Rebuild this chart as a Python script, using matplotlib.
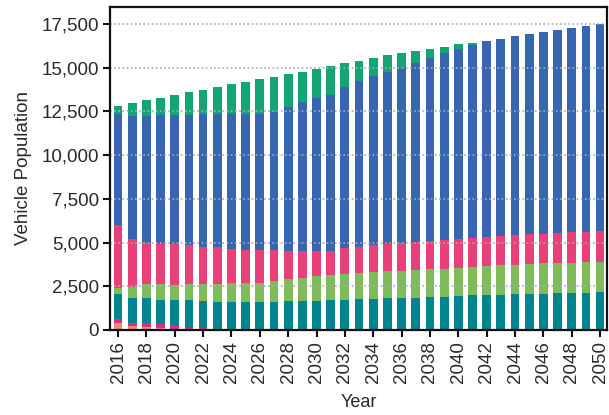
import numpy as np
import matplotlib
matplotlib.use("Agg")
import matplotlib.pyplot as plt
from matplotlib.ticker import FuncFormatter, MultipleLocator

plt.rcParams['font.family'] = ['Liberation Sans', 'DejaVu Sans']

years = list(range(2016, 2051))

# stacked layers, bottom to top
orange = [420, 200, 180, 100, 50] + [0] * 30
magenta = [230, 220, 220, 250, 200, 120, 90, 60] + [0] * 27
teal = [1410, 1390, 1410, 1385, 1465, 1575, 1570, 1560, 1620, 1600,
        1610, 1620, 1640, 1660, 1680, 1700, 1730, 1750, 1770, 1810,
        1830, 1850, 1890, 1910, 1945, 1980, 2000, 2020, 2040, 2060,
        2080, 2100, 2115, 2135, 2155]
olive = [40, 40, 40, 40, 30, 30, 30, 30, 20] + [0] * 26
light_green = [300, 610, 760, 825, 830, 885, 925, 1000, 1065, 1100,
               1100, 1185, 1260, 1315, 1430, 1445, 1490, 1530, 1550, 1545,
               1545, 1565, 1580, 1600, 1620, 1645, 1660, 1680, 1695, 1715,
               1735, 1730, 1735, 1735, 1735]
pink = [3600, 2745, 2380, 2300, 2325, 2230, 2155, 2100, 1945, 1875,
        1850, 1755, 1640, 1540, 1400, 1390, 1450, 1470, 1525, 1580,
        1580, 1620, 1640, 1640, 1660, 1660, 1675, 1695, 1695, 1700,
        1700, 1715, 1735, 1755, 1775]
blue = [6370, 7015, 7245, 7380, 7380, 7485, 7565, 7580, 7680, 7795,
        7815, 7925, 8220, 8520, 8790, 8920, 9250, 9475, 9665, 9840,
        10045, 10240, 10470, 10715, 10865, 11020, 11210, 11270, 11365, 11440,
        11535, 11595, 11670, 11765, 11840]
green = [425, 745, 900, 990, 1145, 1280, 1400, 1570, 1720, 1835,
         1970, 2010, 1885, 1735, 1660, 1645, 1335, 1165, 1030, 935,
         820, 670, 475, 305, 250, 135] + [0] * 9

layers = [orange, magenta, teal, olive, light_green, pink, blue, green]
colors = ['#F38A70', '#DE2A8A', '#00858F', '#C49A36', '#7FBB5B',
          '#E8417A', '#3765AF', '#14A574']

fig = plt.figure(figsize=(6.09, 4.15), dpi=100)
ax = fig.add_axes([0.181, 0.205, 0.816, 0.779])

bottom = np.zeros(len(years))
for vals, c in zip(layers, colors):
    ax.bar(years, vals, width=0.62, bottom=bottom, color=c, zorder=2)
    bottom += np.array(vals)

ax.set_xlim(2015.45, 2050.5)
ax.set_ylim(0, 18500)
ax.yaxis.set_major_locator(MultipleLocator(2500))
ax.yaxis.set_major_formatter(FuncFormatter(lambda v, p: f"{int(v):,}"))
ax.set_xticks(years[::2])
ax.tick_params(axis='x', labelrotation=90)

ax.grid(axis='y', linestyle=(0, (1, 1.5)), color='#AAAAAA', linewidth=1.2, zorder=3)
ax.set_axisbelow(False)

for s in ax.spines.values():
    s.set_linewidth(1.6)
    s.set_color('#111111')
    s.set_zorder(4)

ax.tick_params(direction='out', length=5, width=1.5, labelsize=13.5,
               colors='#111111', labelcolor='#2a2a2a', pad=3)

ax.set_xlabel('Year', fontsize=13, color='#2a2a2a', labelpad=8)
ax.set_ylabel('Vehicle Population', fontsize=13.5, color='#2a2a2a', labelpad=7)

fig.savefig('out.png', dpi=100)
